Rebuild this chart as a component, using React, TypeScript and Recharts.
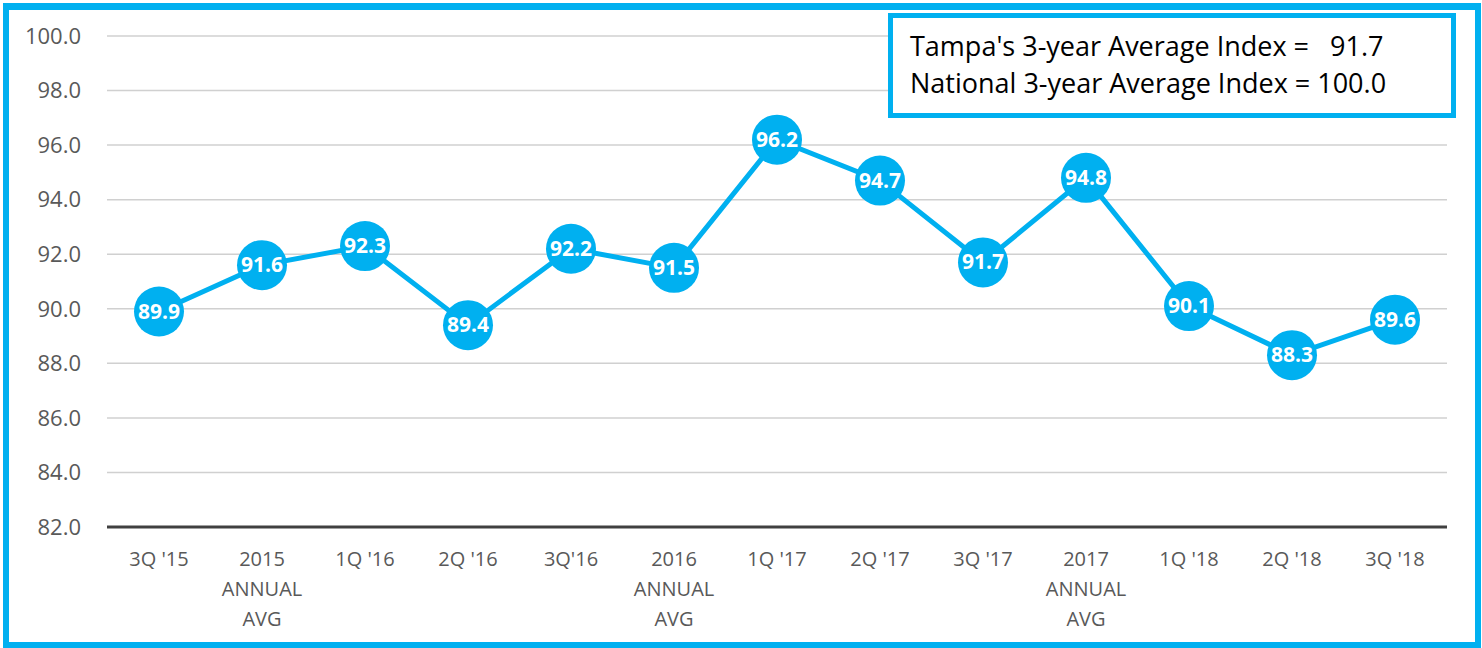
import React from 'react'
import { LineChart, Line, XAxis, YAxis, CartesianGrid } from 'recharts'

const periods = [
  "3Q '15",
  '2015\nANNUAL\nAVG',
  "1Q '16",
  "2Q '16",
  "3Q'16",
  '2016\nANNUAL\nAVG',
  "1Q '17",
  "2Q '17",
  "3Q '17",
  '2017\nANNUAL\nAVG',
  "1Q '18",
  "2Q '18",
  "3Q '18",
]

const indexValues = [89.9, 91.6, 92.3, 89.4, 92.2, 91.5, 96.2, 94.7, 91.7, 94.8, 90.1, 88.3, 89.6]

const yTicks = [82, 84, 86, 88, 90, 92, 94, 96, 98, 100]

const BLUE = '#00b0f0'
const FONT = '"Open Sans", sans-serif'

const data = periods.map((period, i) => ({ period, value: indexValues[i] }))

function XTick(props: any) {
  const { x, y, payload } = props
  const lines = String(payload.value).split('\n')
  return (
    <text x={x} y={y} textAnchor="middle" fill="#595959" fontSize={20} fontFamily={FONT}>
      {lines.map((l, i) => (
        <tspan key={i} x={x} dy={i === 0 ? 31 : 30}>
          {l}
        </tspan>
      ))}
    </text>
  )
}

function Bubble(props: any) {
  const { cx, cy, payload, index } = props
  if (cx == null || cy == null) return null
  return (
    <g key={index}>
      <circle cx={cx} cy={cy} r={25} fill={BLUE} />
      <text
        x={cx}
        y={cy}
        dy={7}
        textAnchor="middle"
        fill="#ffffff"
        fontSize={21}
        fontWeight={700}
        fontFamily={FONT}
      >
        {payload.value.toFixed(1)}
      </text>
    </g>
  )
}

export default function App() {
  return (
    <div style={{ position: 'absolute', left: 0, top: 0, width: 1482, height: 648, background: '#fff', fontFamily: FONT }}>
      <LineChart width={1482} height={648} data={data} margin={{ top: 36, right: 35, bottom: 91, left: 0 }}>
        <CartesianGrid vertical={false} stroke="#d0d0d0" strokeWidth={1.5} />
        <XAxis
          dataKey="period"
          interval={0}
          tick={<XTick />}
          tickLine={false}
          axisLine={{ stroke: '#404040', strokeWidth: 3 }}
          padding={{ left: 52, right: 52 }}
        />
        <YAxis
          width={107}
          domain={[82, 100]}
          ticks={yTicks}
          tickFormatter={(v: number) => v.toFixed(1)}
          tick={{ fill: '#595959', fontSize: 22, fontFamily: FONT }}
          tickLine={false}
          axisLine={false}
          tickMargin={20}
        />
        <Line
          type="linear"
          dataKey="value"
          stroke={BLUE}
          strokeWidth={5}
          dot={<Bubble />}
          activeDot={false}
          isAnimationActive={false}
        />
      </LineChart>
      <div
        style={{
          position: 'absolute',
          left: 888,
          top: 13,
          width: 558,
          height: 95,
          border: `5px solid ${BLUE}`,
          background: '#fff',
          boxSizing: 'content-box',
          color: '#000',
          fontSize: 27,
          lineHeight: '37px',
          whiteSpace: 'pre',
        }}
      >
        <div style={{ position: 'absolute', left: 17, top: 9 }}>{"Tampa's 3-year Average Index =   91.7"}</div>
        <div style={{ position: 'absolute', left: 17, top: 46 }}>National 3-year Average Index = 100.0</div>
      </div>
      <div
        style={{
          position: 'absolute',
          left: 3,
          top: 3,
          width: 1466,
          height: 632,
          border: `6px solid ${BLUE}`,
          borderTopWidth: 7,
          pointerEvents: 'none',
        }}
      />
    </div>
  )
}
